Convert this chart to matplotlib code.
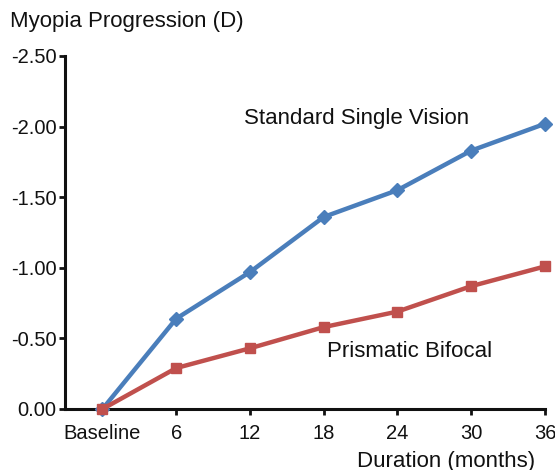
import matplotlib
matplotlib.use("Agg")
import matplotlib.pyplot as plt

months = [0, 6, 12, 18, 24, 30, 36]
tick_labels = ["Baseline", "6", "12", "18", "24", "30", "36"]
standard = [0.0, -0.64, -0.97, -1.36, -1.55, -1.83, -2.02]
prismatic = [0.0, -0.29, -0.43, -0.58, -0.69, -0.87, -1.01]
yticks = [0.0, -0.5, -1.0, -1.5, -2.0, -2.5]

plt.rcParams['font.family'] = ['Liberation Sans', 'DejaVu Sans']

W, H = 555, 470
fig = plt.figure(figsize=(W/100, H/100), dpi=100)
left, right, top, bottom = 65, 545, 56, 409
ax = fig.add_axes([left/W, (H-bottom)/H, (right-left)/W, (bottom-top)/H])

blue = "#4a7ebb"
red = "#c0504d"
ax.plot(months, standard, color=blue, lw=3.2, marker="D", ms=7, clip_on=False, zorder=3)
ax.plot(months, prismatic, color=red, lw=3.2, marker="s", ms=7, clip_on=False, zorder=4)

ax.set_xlim(-3.05, 36)
ax.set_ylim(0, -2.5)
ax.set_xticks(months)
ax.set_xticklabels(tick_labels)
ax.set_yticks(yticks)
ax.set_yticklabels([f"{v:.2f}" if v != 0 else "0.00" for v in yticks])

for s in ["top", "right"]:
    ax.spines[s].set_visible(False)
for s in ["left", "bottom"]:
    ax.spines[s].set_linewidth(2.2)
    ax.spines[s].set_color("#111111")
ax.tick_params(axis="both", direction="out", length=4, width=2, labelsize=14.5, colors="#111111", labelcolor="#111111")
ax.tick_params(axis="x", pad=7)
ax.tick_params(axis="y", pad=2)
ax.get_xticklabels()[0].set_x(-0.4)

fig.text(10/W, 1 - 22/H, "Myopia Progression (D)", fontsize=16, va="center", ha="left", color="#111111")
fig.text(535/W, 1 - 461/H, "Duration (months)", fontsize=16, va="center", ha="right", color="#111111")
ax.text(11.5, -2.06, "Standard Single Vision", fontsize=16, va="center", ha="left", color="#111111")
ax.text(18.3, -0.41, "Prismatic Bifocal", fontsize=16, va="center", ha="left", color="#111111")

fig.savefig("out.png", dpi=100)
